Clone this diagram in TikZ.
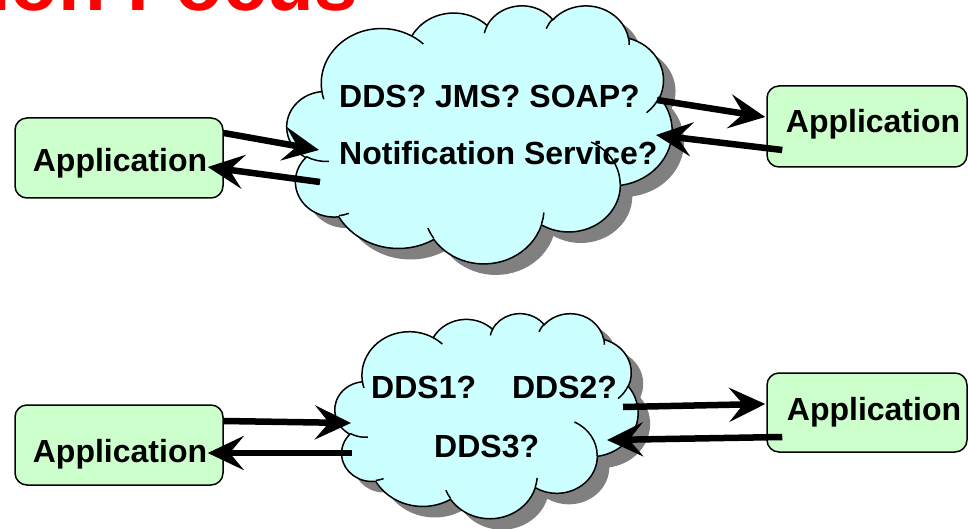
\documentclass[tikz,border=0pt]{standalone}
\usepackage{fontspec}
\setmainfont{Liberation Sans}
\usetikzlibrary{arrows.meta}

\definecolor{appgreen}{HTML}{CCFFCC}
\definecolor{cloudcyan}{HTML}{CCFFFF}
\definecolor{shadowgray}{HTML}{808080}

% elliptic arc of one puff, angles as in office shapes (measured on the ellipse)
\newcommand\puffangles[4]{%
  \pgfmathsetmacro\puffta{atan2(#1*sin(#3),#2*cos(#3))}%
  \pgfmathsetmacro\pufftb{atan2(#1*sin(#3+#4),#2*cos(#3+#4))}%
  \pgfmathsetmacro\puffdt{Mod(\pufftb-\puffta,360)}%
  \global\let\puffta\puffta \global\let\puffdt\puffdt}
\newcommand\puff[4]{\pgfextra{\puffangles{#1}{#2}{#3}{#4}}
  arc[x radius=#1, y radius=#2, start angle=\puffta, delta angle=\puffdt]}

% cloud outline in a 432 x 432 box
\newcommand\cloudoutline{(39.00,143.70)
  \puff{67.53}{91.90}{-190.4875}{123.7805}
  \puff{53.33}{72.67}{-144.1024}{89.9452}
  \puff{43.65}{59.45}{-145.8079}{99.7230}
  \puff{48.57}{65.95}{-130.9861}{117.2417}
  \puff{53.33}{72.73}{-78.7089}{109.0269}
  \puff{67.75}{92.20}{-46.2673}{130.2690}
  \puff{57.85}{78.67}{0.6250}{114.0333}
  \puff{67.52}{92.15}{22.4516}{115.1726}
  \puff{77.20}{105.43}{66.2426}{75.7110}
  \puff{43.60}{59.18}{-274.9421}{146.7356}
  \puff{43.45}{59.45}{-246.8285}{152.5189}
  -- cycle}

% the folds between the puffs
\newcommand\cloudinner{
  (46.93,261.77) \puff{43.45}{59.45}{86.7420}{26.4295}
  (69.28,348.99) \puff{43.60}{59.18}{73.6105}{11.4475}
  (164.78,390.90) \puff{67.52}{92.15}{137.6242}{14.0811}
  (288.27,347.51) \puff{67.52}{92.15}{6.4533}{15.9984}
  (341.29,229.54) \puff{57.85}{78.67}{-70.2924}{70.9174}
  (417.98,153.54) \puff{53.33}{72.73}{30.3180}{27.7515}
  (383.24,54.26) \puff{48.57}{65.95}{-13.7443}{14.8589}
  (290.78,39.52) \puff{48.57}{65.95}{-149.1815}{18.1954}
  (221.41,47.20) \puff{43.65}{59.45}{-163.4943}{17.6864}
  (140.00,51.92) \puff{67.53}{91.90}{-66.7070}{12.3194}
  (41.27,157.89) \puff{67.53}{91.90}{157.6544}{11.8582}}

% left, top, width, height
\newcommand\cloudbase[4]{%
  \begin{scope}[shift={(#1+12,#2+11)}, xscale=#3/432, yscale=#4/432]
    \fill[shadowgray] \cloudoutline;
  \end{scope}
  \begin{scope}[shift={(#1,#2)}, xscale=#3/432, yscale=#4/432]
    \filldraw[fill=cloudcyan, draw=black, line width=1.5pt] \cloudoutline;
  \end{scope}}
\newcommand\cloudfolds[4]{%
  \begin{scope}[shift={(#1,#2)}, xscale=#3/432, yscale=#4/432]
    \draw[line width=1.5pt] \cloudinner;
  \end{scope}}

\tikzset{
  appbox/.style={draw=black, line width=1.5pt, fill=appgreen, rounded corners=12pt, inner sep=0pt},
  apptext/.style={font=\fontsize{32}{38}\selectfont\bfseries, anchor=base, inner sep=0pt},
  cloudtext/.style={font=\fontsize{32}{38}\selectfont\bfseries, anchor=base west, inner sep=0pt},
  flow/.style={line width=6.5pt, -{Stealth[length=36pt, width=34pt, inset=14pt]}}
}

\begin{document}
\begin{tikzpicture}[x=1pt, y=-1pt]
\clip (0,0) rectangle (968,529);

\node[font=\fontsize{78}{90}\selectfont\bfseries, text=red, anchor=base west, inner sep=0pt] (title) at (-11,11) {ion Focus};

% upper cloud
\cloudbase{287}{5}{385}{258}
\node[cloudtext] (topA) at (339,108) {DDS? JMS? SOAP?};
\node[cloudtext] (topB) at (339,165) {Notification Service?};
\cloudfolds{287}{5}{385}{258}

% lower cloud
\cloudbase{335}{313}{303}{205}
\node[cloudtext] (lowA) at (371,398) {DDS1?\hspace{36pt}DDS2?};
\node[cloudtext] (lowB) at (434,457) {DDS3?};
\cloudfolds{335}{313}{303}{205}

% applications
\node[appbox, minimum width=208pt, minimum height=80pt] (appA) at (119,158) {};
\node[apptext] (appAtext) at (120,172) {Application};
\node[appbox, minimum width=200pt, minimum height=81pt] (appB) at (867,126.5) {};
\node[apptext] (appBtext) at (873,133) {Application};
\node[appbox, minimum width=208pt, minimum height=80pt] (appC) at (119,445) {};
\node[apptext] (appCtext) at (120,462) {Application};
\node[appbox, minimum width=200pt, minimum height=79pt] (appD) at (867,412.5) {};
\node[apptext] (appDtext) at (874,420) {Application};

% arrow ends on the clouds
\coordinate (topIn) at (319,150);
\coordinate (topOut) at (320,182);
\coordinate (topRight) at (657,100);
\coordinate (topBack) at (656,135);
\coordinate (lowIn) at (351,423);
\coordinate (lowOut) at (352,453);
\coordinate (lowRight) at (623,407);
\coordinate (lowBack) at (607,440);

\draw[flow] ([yshift=25pt]appA.east) -- (topIn);
\draw[flow] (topOut) -- ([xshift=-16pt, yshift=-9pt]appA.east);
\draw[flow] (topRight) -- ([xshift=-1pt, yshift=9.5pt]appB.west);
\draw[flow] ([xshift=16pt, yshift=-23.5pt]appB.west) -- (topBack);

\draw[flow] ([yshift=24pt]appC.east) -- (lowIn);
\draw[flow] (lowOut) -- ([xshift=-16pt, yshift=-8pt]appC.east);
\draw[flow] (lowRight) -- ([xshift=-1pt, yshift=8.5pt]appD.west);
\draw[flow] ([xshift=16pt, yshift=-24.5pt]appD.west) -- (lowBack);
\end{tikzpicture}
\end{document}
